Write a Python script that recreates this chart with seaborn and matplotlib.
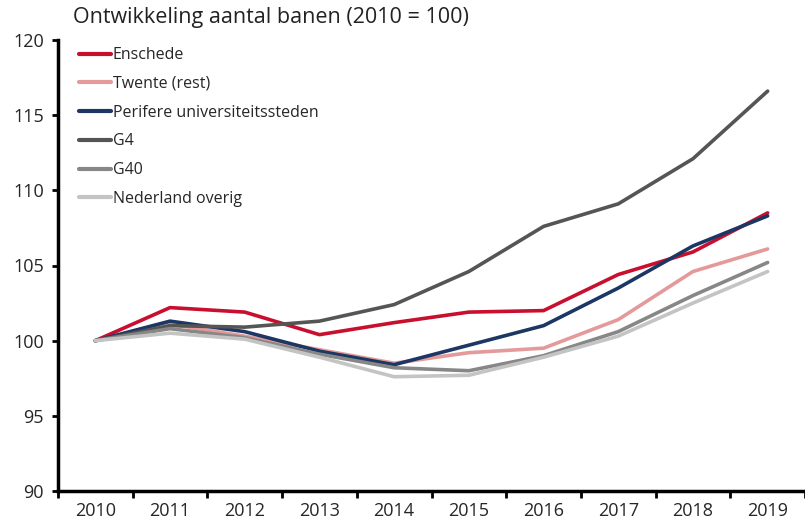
import numpy as np
import pandas as pd
import matplotlib
matplotlib.use("Agg")
import matplotlib.pyplot as plt
import seaborn as sns

sns.set_style("white")
plt.rcParams['font.family'] = ['Open Sans', 'DejaVu Sans']

years = [2010, 2011, 2012, 2013, 2014, 2015, 2016, 2017, 2018, 2019]

enschede = [100, 102.2, 101.9, 100.4, 101.2, 101.9, 102.0, 104.4, 105.9, 108.5]
twente_rest = [100, 101.1, 100.3, 99.4, 98.5, 99.2, 99.5, 101.4, 104.6, 106.1]
perifere = [100, 101.3, 100.6, 99.3, 98.4, 99.7, 101.0, 103.5, 106.3, 108.3]
g4 = [100, 101.0, 100.9, 101.3, 102.4, 104.6, 107.6, 109.1, 112.1, 116.6]
g40 = [100, 100.8, 100.2, 99.1, 98.2, 98.0, 99.0, 100.6, 103.0, 105.2]
nl_overig = [100, 100.5, 100.1, 98.9, 97.6, 97.7, 98.9, 100.3, 102.5, 104.6]

series = {
    "Enschede": enschede,
    "Twente (rest)": twente_rest,
    "Perifere universiteitssteden": perifere,
    "G4": g4,
    "G40": g40,
    "Nederland overig": nl_overig,
}
colors = ["#C8102E", "#E49A9A", "#1C3764", "#555555", "#878787", "#C4C4C4"]

df = pd.concat(
    [pd.DataFrame({"Jaar": years, "Index": vals, "Regio": name}) for name, vals in series.items()],
    ignore_index=True,
)

fig = plt.figure(figsize=(8.05, 5.26), dpi=100)
ax = fig.add_axes([58 / 805, 35 / 526, 1 - 58 / 805, (491 - 40) / 526])

sns.lineplot(data=df, x="Jaar", y="Index", hue="Regio", palette=colors,
             linewidth=2.6, ax=ax, legend=True)

ax.set_ylim(90, 120)
ax.set_xlim(2009.5, 2019.37)
ax.set_yticks(np.arange(90, 121, 5))
ax.set_xticks(years)
ax.set_xticks(np.arange(2009.5, 2020, 1), minor=True)
ax.set_xticklabels([str(y) for y in years])
ax.set_xlabel("")
ax.set_ylabel("")

for s in ["top", "right"]:
    ax.spines[s].set_visible(False)
for s in ["left", "bottom"]:
    ax.spines[s].set_color("black")
    ax.spines[s].set_linewidth(2.5)

ax.tick_params(axis="y", which="major", direction="out", length=4, width=2,
               color="black", labelsize=13, pad=6, left=True)
ax.tick_params(axis="x", which="major", length=0, labelsize=13, pad=8, bottom=True)
ax.tick_params(axis="x", which="minor", direction="out", length=5, width=2,
               color="black", bottom=True)

leg = ax.legend(loc="upper left", bbox_to_anchor=(0.0134, 1.009), frameon=False,
                fontsize=11.5, handlelength=2.0, handletextpad=0.1,
                labelspacing=0.8, borderaxespad=0.3)
for line in leg.get_lines():
    line.set_linewidth(3)

fig.text(73 / 805, 1 - 18 / 526, "Ontwikkeling aantal banen (2010 = 100)",
         fontsize=15.5, va="center", ha="left", color="#222222")

fig.savefig("out.png", dpi=100)
